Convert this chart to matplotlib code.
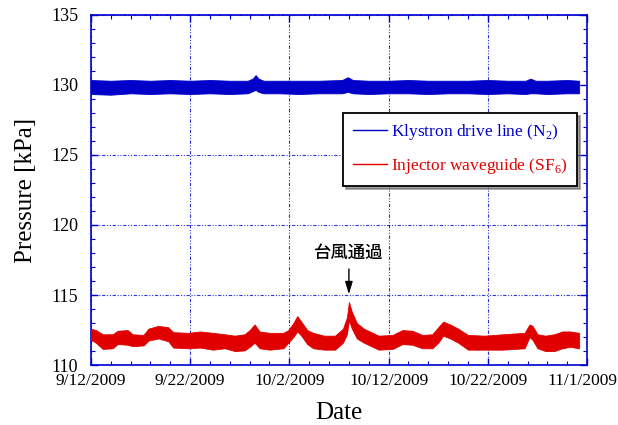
import matplotlib
matplotlib.use("Agg")
import matplotlib.pyplot as plt
import matplotlib.transforms as mtransforms
from matplotlib.lines import Line2D
from matplotlib.ticker import MultipleLocator
import numpy as np
import pandas as pd

plt.rcParams["font.family"] = ["Liberation Serif", "DejaVu Serif"]
plt.rcParams["mathtext.fontset"] = "custom"
plt.rcParams["mathtext.rm"] = "Liberation Serif"

start = pd.Timestamp("2009-09-12")

# Klystron drive line (N2): band envelope (days after 9/12)
blue_day = [0, 2, 4, 6, 8, 10, 12, 14, 15.8, 16.3, 16.6, 16.9, 17.4, 19, 21, 23, 25.3,
            25.9, 26.4, 28, 30, 32, 34, 36, 38, 40, 42, 43.8, 44.3, 44.8, 46, 48, 49.2]
blue_top = [130.35, 130.3, 130.35, 130.3, 130.35, 130.3, 130.35, 130.3, 130.3, 130.45, 130.7, 130.45, 130.3, 130.3,
            130.3, 130.3, 130.35, 130.55, 130.35, 130.3, 130.3, 130.35, 130.3, 130.3, 130.3, 130.35,
            130.3, 130.3, 130.45, 130.3, 130.3, 130.35, 130.3]
blue_bot = [129.35, 129.3, 129.4, 129.35, 129.4, 129.35, 129.4, 129.35, 129.4, 129.55, 129.65, 129.5, 129.4, 129.4,
            129.35, 129.4, 129.4, 129.5, 129.4, 129.35, 129.4, 129.4, 129.35, 129.4, 129.4, 129.35,
            129.4, 129.35, 129.4, 129.4, 129.35, 129.4, 129.4]

# Injector waveguide (SF6)
red_day = [0, 0.5, 1.2, 2.2, 2.7, 3.7, 4.2, 5.3, 5.8, 6.8, 7.8, 8.3, 9.8, 11, 12.3, 13.5,
           14.5, 15.5, 16.0, 16.5, 17.0, 18.0, 19.4, 19.9, 20.4, 20.8, 21.2, 21.8, 22.4, 23.5,
           24.6, 25.4, 25.8, 26.0, 26.3, 26.8, 27.5, 29.0, 30.4, 31.4, 32.4, 33.4, 34.4, 35.0,
           35.5, 36.2, 37.0, 38.0, 39.7, 41.5, 43.7, 44.2, 44.5, 45.0, 45.8, 46.7, 47.5, 48.3, 49.2]
red_top = [112.6, 112.5, 112.2, 112.2, 112.45, 112.5, 112.2, 112.15, 112.6, 112.8, 112.7, 112.35, 112.3,
           112.4, 112.3, 112.2, 112.1, 112.2, 112.5, 112.9, 112.4, 112.3, 112.3, 112.5, 113.0, 113.5,
           113.1, 112.5, 112.3, 112.1, 112.1, 112.6, 113.4, 114.5, 113.8, 113.0, 112.6, 112.1, 112.15,
           112.5, 112.45, 112.15, 112.2, 112.7, 113.1, 112.9, 112.6, 112.15, 112.1, 112.2, 112.3, 112.9,
           112.8, 112.2, 112.1, 112.2, 112.4, 112.4, 112.3]
red_bot = [111.8, 111.6, 111.15, 111.2, 111.5, 111.45, 111.35, 111.4, 111.75, 111.9, 111.7, 111.25, 111.2,
           111.25, 111.1, 111.2, 111.0, 111.05, 111.3, 111.6, 111.2, 111.1, 111.2, 111.6, 112.0, 112.4,
           112.1, 111.5, 111.2, 111.1, 111.1, 111.6, 112.2, 113.2, 112.6, 111.9, 111.6, 111.1, 111.15,
           111.5, 111.45, 111.2, 111.2, 111.6, 112.1, 111.9, 111.6, 111.1, 111.1, 111.1, 111.2, 112.0,
           111.8, 111.2, 111.0, 111.0, 111.2, 111.3, 111.2]

tick_days = [0, 10, 20, 30, 40, 50]
tick_labels = ["9/12/2009", "9/22/2009", "10/2/2009", "10/12/2009", "10/22/2009", "11/1/2009"]
series_labels = ["Klystron drive line (N$_{\\mathrm{2}}$)", "Injector waveguide (SF$_{\\mathrm{6}}$)"]
typhoon_day = 26.0
typhoon_text = "台風通過"

blue = "#0000c8"
red = "#e00000"
axis_blue = "#0000d0"


def to_date(days):
    return start + pd.to_timedelta(np.asarray(days, dtype=float), unit="D")


fig = plt.figure(figsize=(6.18, 4.25), dpi=100)
ax = fig.add_axes([0.147, 0.141, 0.803, 0.824])

ax.fill_between(to_date(blue_day), blue_bot, blue_top, color=blue, lw=0.6, zorder=3)
ax.fill_between(to_date(red_day), red_bot, red_top, color=red, lw=0.6, zorder=3)

ax.set_xlim(to_date([0])[0], to_date([50])[0])
ax.set_ylim(110, 135)
ax.set_xticks(to_date(tick_days))
ax.set_xticklabels(tick_labels)
ax.set_xticks(to_date(np.arange(0, 51, 2)), minor=True)
ax.yaxis.set_major_locator(MultipleLocator(5))
ax.yaxis.set_minor_locator(MultipleLocator(1))

ax.tick_params(which="both", direction="in", top=True, right=True, color=axis_blue,
               labelcolor="black")
ax.tick_params(axis="y", labelsize=13, pad=9)
ax.tick_params(axis="x", labelsize=12.5, pad=6)
ax.tick_params(which="major", length=5, width=1)
ax.tick_params(which="minor", length=3, width=0.8)
for sp in ax.spines.values():
    sp.set_color(axis_blue)
    sp.set_linewidth(1.2)

ax.grid(True, which="major", color=axis_blue, lw=0.8,
        linestyle=(0, (3, 1.5, 1, 1.5, 1, 1.5)), alpha=0.8)

ax.set_ylabel("Pressure [kPa]", fontsize=18, labelpad=10)
ax.set_xlabel("Date", fontsize=18, labelpad=9)

# nudge the corner labels so they do not collide / get clipped
fig.canvas.draw()
ylab0 = ax.get_yticklabels()[0]
ylab0.set_transform(ylab0.get_transform() + mtransforms.ScaledTranslation(0, 5 / 72, fig.dpi_scale_trans))
xlab_last = ax.get_xticklabels()[-1]
xlab_last.set_transform(xlab_last.get_transform() + mtransforms.ScaledTranslation(-3 / 72, 0, fig.dpi_scale_trans))

handles = [Line2D([], [], color=blue, lw=1), Line2D([], [], color=red, lw=1)]
leg = ax.legend(handles, series_labels, loc="upper right", bbox_to_anchor=(0.98, 0.72),
                fontsize=12.5, fancybox=False, shadow=True, framealpha=1,
                edgecolor="black", handlelength=2.0, handletextpad=0.2,
                borderpad=0.55, borderaxespad=0.0, labelspacing=0.8)
leg.get_frame().set_linewidth(1.3)
for txt, c in zip(leg.get_texts(), [blue, red]):
    txt.set_color(c)

ax.annotate(typhoon_text, xy=(to_date([typhoon_day])[0], 115.05),
            xytext=(to_date([typhoon_day])[0], 118.0), ha="center", va="center",
            fontsize=12.5, family=["Noto Sans CJK JP", "DejaVu Sans"], weight="medium",
            arrowprops=dict(arrowstyle="-|>,head_length=0.6,head_width=0.18",
                            color="black", lw=1, shrinkA=3, shrinkB=0))

fig.savefig("out.png", dpi=100)
